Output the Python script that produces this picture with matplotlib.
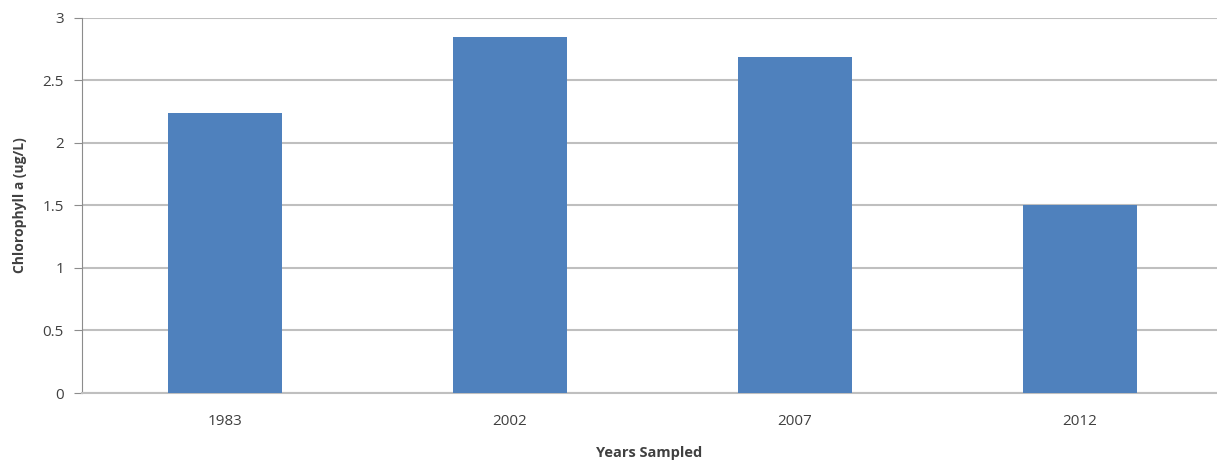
import matplotlib.pyplot as plt

years = ['1983', '2002', '2007', '2012']
chlorophyll = [2.24, 2.85, 2.69, 1.50]

plt.rcParams['font.family'] = ['Open Sans', 'DejaVu Sans']

fig = plt.figure(figsize=(12.17, 4.61), dpi=100)
ax = fig.add_axes([0.0674, 0.1475, 0.9326, 0.8135])

ax.bar(range(len(years)), chlorophyll, width=0.4, color='#4F81BD', zorder=3)

ax.set_xlim(-0.5, 3.48)
ax.set_ylim(0, 3)
ax.set_yticks([0, 0.5, 1, 1.5, 2, 2.5, 3])
ax.set_yticklabels(['0', '0.5', '1', '1.5', '2', '2.5', '3'])
ax.set_xticks(range(len(years)))
ax.set_xticklabels(years)

ax.grid(axis='y', color='#BFBFBF', linewidth=1.5, zorder=0)
for side in ['top', 'right']:
    ax.spines[side].set_visible(False)
ax.spines['left'].set_color('#8C8C8C')
ax.spines['bottom'].set_color('#BFBFBF')
ax.spines['bottom'].set_linewidth(1.5)

ax.tick_params(axis='y', length=6, color='#8C8C8C', labelsize=11, labelcolor='#404040', pad=7)
ax.tick_params(axis='x', length=0, labelsize=11, labelcolor='#404040', pad=15)

ax.set_ylabel('Chlorophyll a (ug/L)', fontsize=10, fontweight='bold', color='#404040', labelpad=11)
ax.set_xlabel('Years Sampled', fontsize=10.5, fontweight='bold', color='#404040', labelpad=12)

fig.savefig('out.png', dpi=100)
